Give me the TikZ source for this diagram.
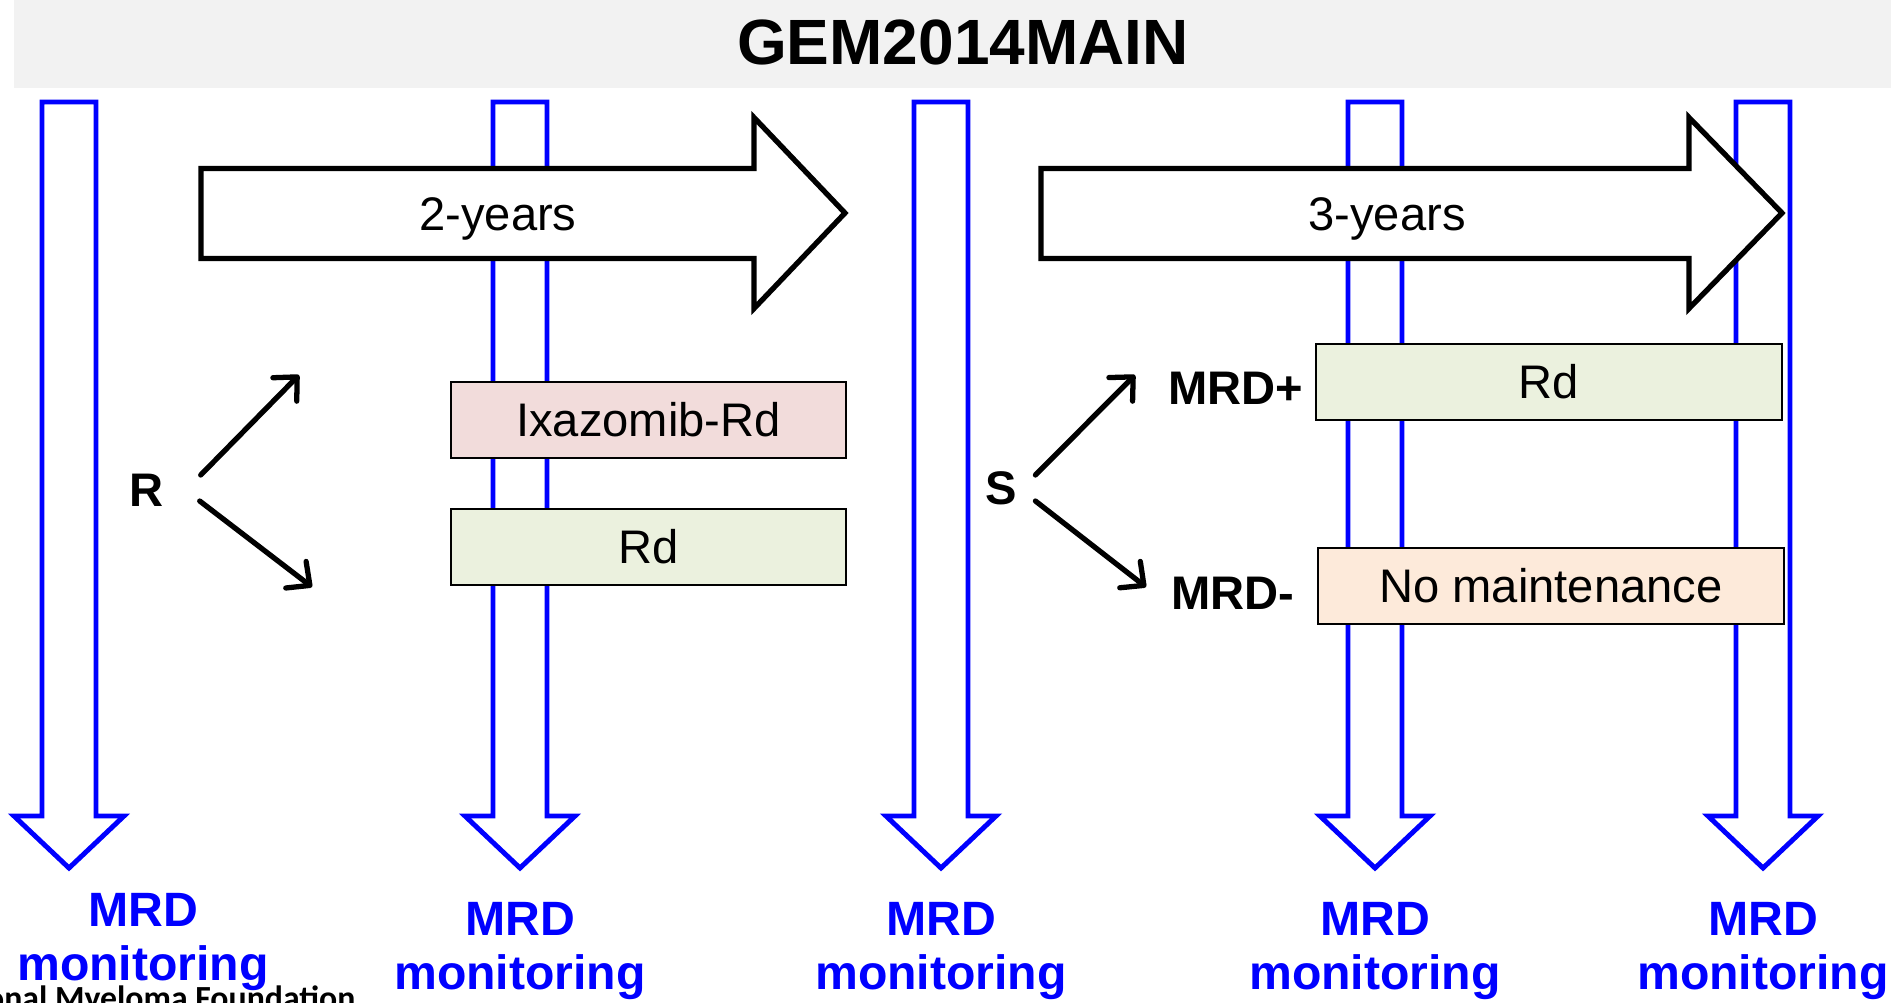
\documentclass[tikz,border=0pt]{standalone}
\usepackage{fontspec}
\setmainfont{Liberation Sans}
\newfontfamily\footfont{Carlito}
\usetikzlibrary{arrows.meta}
\definecolor{titlegray}{HTML}{F2F2F2}
\definecolor{pinkfill}{HTML}{F2DCDB}
\definecolor{greenfill}{HTML}{EBF1DE}
\definecolor{peachfill}{HTML}{FDEADA}
\begin{document}
\begin{tikzpicture}[x=0.01cm,y=-0.01cm,
    mrdarrow/.style={draw=blue,line width=1.4pt,fill=white},
    yeararrow/.style={draw=black,line width=1.5pt,fill=white},
    armbox/.style={draw=black,line width=0.6pt,inner sep=0pt,minimum height=7.65mm,font=\fontsize{13.4}{16}\selectfont},
    steplabel/.style={inner sep=0pt,font=\bfseries\fontsize{13.4}{16}\selectfont},
    branch/.style={line width=1.5pt,line cap=round,-{Straight Barb[length=5pt,width=9.5pt,round]}},
    mrdlabel/.style={text=blue,align=center,inner sep=0pt,font=\bfseries\fontsize{13.7}{15.4}\selectfont}]
    \useasboundingbox (0,0) rectangle (1891,1002);
    \fill[titlegray] (14,0) rectangle (1891,88);
    \node[font=\bfseries\fontsize{18.2}{22}\selectfont] (title) at (963,42) {GEM2014MAIN};
    \foreach \c in {69,520,941,1375,1763}
        \draw[mrdarrow] (\c-27,102) -- (\c+27,102) -- (\c+27,816) -- (\c+55,816) -- (\c,868) -- (\c-55,816) -- (\c-27,816) -- cycle;
    \draw[yeararrow] (201,168.5) -- (754,168.5) -- (754,117.5) -- (845,213) -- (754,308.5) -- (754,258.5) -- (201,258.5) -- cycle;
    \draw[yeararrow] (1041,168.5) -- (1689,168.5) -- (1689,117.5) -- (1782,213) -- (1689,308.5) -- (1689,258.5) -- (1041,258.5) -- cycle;
    \node[font=\fontsize{13.4}{16}\selectfont] (twoyears) at (498,219) {2-years};
    \node[font=\fontsize{13.4}{16}\selectfont] (threeyears) at (1387,219) {3-years};
    \node[armbox,fill=pinkfill,minimum width=39.5mm] (ixa) at (648.5,420) {Ixazomib-Rd};
    \node[armbox,fill=greenfill,minimum width=39.5mm] (rdleft) at (648.5,547) {Rd};
    \node[armbox,fill=greenfill,minimum width=46.6mm] (rdright) at (1549,382) {Rd};
    \node[armbox,fill=peachfill,minimum width=46.6mm] (nomaint) at (1551,586) {No maintenance};
    \node[steplabel] (R) at (147,490) {R};
    \node[steplabel] (S) at (1001,488) {S};
    \node[steplabel] (mrdplus) at (1236,388) {MRD+};
    \node[steplabel] (mrdminus) at (1233,593) {MRD-};
    \coordinate (rhi) at (299,375);
    \coordinate (rlo) at (312,587);
    \coordinate (shi) at (1135,375);
    \coordinate (slo) at (1146,587);
    \draw[branch] ([shift={(36,-15)}]R.east) -- (rhi);
    \draw[branch] ([shift={(35,11)}]R.east) -- (rlo);
    \draw[branch] ([shift={(18,-13)}]S.east) -- (shi);
    \draw[branch] ([shift={(18,13)}]S.east) -- (slo);
    \node[mrdlabel] (mrd1) at (143,942) {MRD\\monitoring};
    \node[mrdlabel] (mrd2) at (520,951) {MRD\\monitoring};
    \node[mrdlabel] (mrd3) at (941,951) {MRD\\monitoring};
    \node[mrdlabel] (mrd4) at (1375,951) {MRD\\monitoring};
    \node[mrdlabel] (mrd5) at (1763,951) {MRD\\monitoring};
    \begin{scope}
        \clip (0,0) rectangle (1891,1002);
        \node[anchor=base east,inner sep=0pt,font=\footfont\bfseries\fontsize{9.6}{11}\selectfont] (imf) at (356,1009) {onal Myeloma Foundation};
    \end{scope}
\end{tikzpicture}
\end{document}
